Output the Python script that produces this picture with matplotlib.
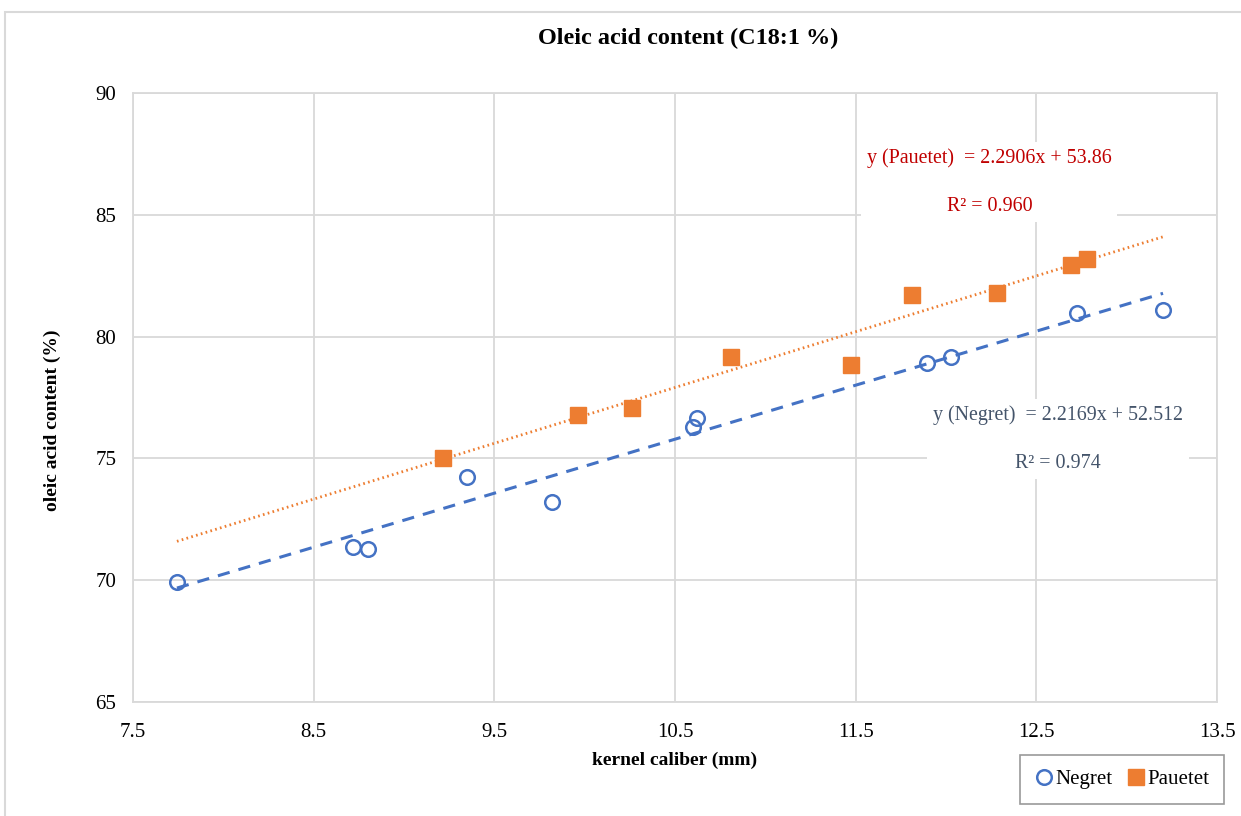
import numpy as np
import matplotlib
matplotlib.use("Agg")
import matplotlib.pyplot as plt
from matplotlib.patches import Rectangle

plt.rcParams["font.family"] = "Liberation Serif"

# kernel caliber (mm) and oleic acid (%)
NEGRET_X = [7.743, 8.718, 8.801, 9.349, 9.819, 10.60, 10.62, 11.895, 12.03, 12.725, 13.201]
NEGRET_Y = [69.92, 71.35, 71.30, 74.25, 73.22, 76.27, 76.66, 78.92, 79.18, 80.97, 81.10]
PAUETET_X = [9.216, 9.963, 10.262, 10.81, 11.474, 11.812, 12.282, 12.692, 12.78]
PAUETET_Y = [75.00, 76.78, 77.05, 79.18, 78.83, 81.70, 81.80, 82.96, 83.20]

# trendline coefficients (slope, intercept) and R²
NEGRET_FIT = (2.2169, 52.512)
PAUETET_FIT = (2.2906, 53.86)
NEGRET_R2 = 0.974
PAUETET_R2 = 0.960

BLUE = "#4472C4"
ORANGE = "#ED7D31"
GRID = "#D9D9D9"


def main():
    fig = plt.figure(figsize=(12.41, 8.16), dpi=100)
    ax = fig.add_axes([0.1072, 0.1397, 0.8735, 0.7463])

    # outer chart frame
    fig.patches.append(Rectangle((0.004, -0.01), 1.02, 0.995, transform=fig.transFigure,
                                 fill=False, edgecolor="#D9D9D9", linewidth=1.5))

    ax.plot(NEGRET_X, NEGRET_Y, "o", ms=10.5, mfc="none", mec=BLUE, mew=1.8,
            label="Negret", zorder=4)
    ax.plot(PAUETET_X, PAUETET_Y, "s", ms=11, mfc=ORANGE, mec=ORANGE,
            label="Pauetet", zorder=4)

    # trendlines over the full caliber range
    x_lo = min(NEGRET_X + PAUETET_X)
    x_hi = max(NEGRET_X + PAUETET_X)
    xs = np.array([x_lo, x_hi])
    ax.plot(xs, NEGRET_FIT[0] * xs + NEGRET_FIT[1], "--", color=BLUE, lw=2.2,
            dashes=(4, 3), zorder=3)
    ax.plot(xs, PAUETET_FIT[0] * xs + PAUETET_FIT[1], ":", color=ORANGE, lw=2.0,
            dashes=(0.6, 1.2), zorder=3)

    ax.set_xlim(7.5, 13.5)
    ax.set_ylim(65, 90)
    ax.set_xticks(np.arange(7.5, 13.6, 1.0))
    ax.set_yticks(np.arange(65, 91, 5))
    ax.grid(True, color=GRID, lw=1.3)
    ax.set_axisbelow(True)
    for s in ax.spines.values():
        s.set_color(GRID)
        s.set_linewidth(1.3)
    ax.tick_params(length=0, labelsize=15)
    ax.tick_params(axis="x", pad=15)
    ax.tick_params(axis="y", pad=12)

    ax.set_xlabel("kernel caliber (mm)", fontsize=14, fontweight="bold", labelpad=7)
    ax.set_ylabel("oleic acid content (%)", fontsize=14, fontweight="bold")
    ax.yaxis.set_label_coords(-0.066, 0.463)
    ax.set_title("Oleic acid content (C18:1 %)", fontsize=17.5, fontweight="bold",
                 x=0.512, pad=35)

    box = dict(facecolor="white", edgecolor="none", pad=4)
    ax.text(12.24, 86.35,
            f"y (Pauetet)  = {PAUETET_FIT[0]}x + {PAUETET_FIT[1]}\n\nR² = {PAUETET_R2:.3f}",
            ha="center", va="center", color="#C00000", fontsize=14.4, linespacing=1.37,
            bbox=box, zorder=5)
    ax.text(12.62, 75.8,
            f"y (Negret)  = {NEGRET_FIT[0]}x + {NEGRET_FIT[1]}\n\nR² = {NEGRET_R2:.3f}",
            ha="center", va="center", color="#44546A", fontsize=14.4, linespacing=1.37,
            bbox=box, zorder=5)

    leg = fig.legend(loc="lower right", bbox_to_anchor=(0.9945, 0.002), fontsize=15,
                     frameon=True, fancybox=False, ncol=2, handletextpad=0.1,
                     columnspacing=0.65, handlelength=0.9, borderpad=0.7)
    leg.get_frame().set_edgecolor("#808080")
    leg.get_frame().set_linewidth(1.2)

    fig.savefig("out.png", dpi=100)


if __name__ == "__main__":
    main()
